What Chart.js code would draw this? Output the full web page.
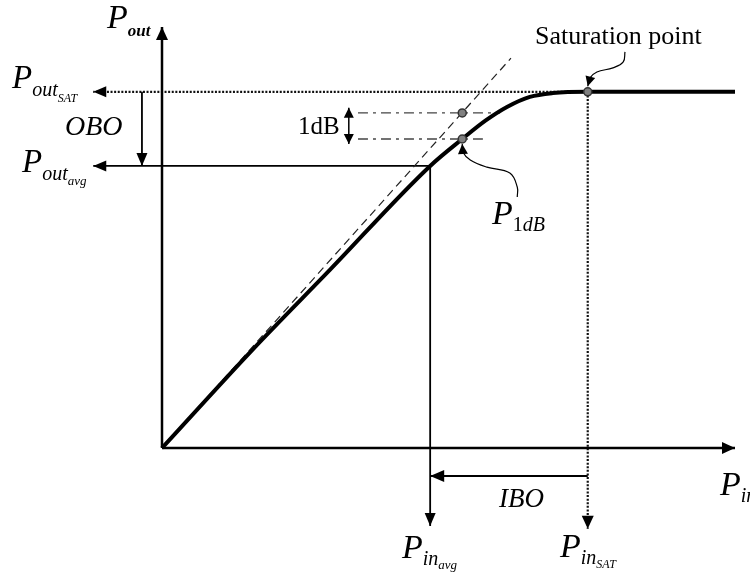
<!DOCTYPE html>
<html>
<head>
<meta charset="utf-8">
<script src="https://cdn.jsdelivr.net/npm/chart.js@4.4.0/dist/chart.umd.min.js"></script>
<style>
  html, body { margin: 0; padding: 0; background: #fff; }
  canvas { display: block; }
</style>
</head>
<body>
<canvas id="grafico" width="750" height="574"></canvas>
<script>
// 1) Datos (unidades arbitrarias, ejes de 0 a 100)
const ejeMax = 100;

// curva Pout vs Pin (compresion suave hasta saturacion)
const curvaPin  = [0, 15.9, 29.3, 46.8, 52.4, 56.5, 60.2, 64.2, 68.2, 74.3, 100];
const curvaPout = [0, 23.5, 42.3, 67.0, 73.4, 77.8, 81.0, 83.4, 84.3, 84.6, 84.6];

// extension lineal (ganancia de pequena senal)
const linealPin  = [0, 60.9];
const linealPout = [0, 92.6];

// puntos notables
const pinAvg = 46.8, poutAvg = 67.0;
const pinSat = 74.3, poutSat = 84.6;
const pin1dB = 52.4, pout1dB = 73.4, poutLineal1dB = 79.6;

// flechas indicadoras (curvas) hacia P1dB y saturacion
const flecha1dBPin  = [62.0, 62.0, 60.7, 56.7, 53.8, 52.5, 52.4];
const flecha1dBPout = [59.6, 62.0, 65.3, 66.7, 68.4, 70.3, 72.2];
const flechaSatPin  = [80.8, 80.5, 78.7, 75.9, 74.7, 74.3];
const flechaSatPout = [94.1, 91.7, 90.3, 89.3, 87.9, 85.9];

// hasta donde llegan las cotas fuera de los ejes
const limiteIzq = -12;
const limiteAbajoAvg = -18.5;
const limiteAbajoSat = -19.2;
const oboPin = -3.5;
const iboPout = -6.65;
const lineas1dB = [34.2, 59.0, 56.0];   // inicio, fin superior, fin inferior
const cota1dB = [32.6, 80.8, 72.2];     // x, arriba, abajo

const pts = (xs, ys) => xs.map((x, i) => ({ x, y: ys[i] }));

// 2) Plugin: puntas de flecha en los extremos de las lineas
const puntasFlecha = {
  id: "puntasFlecha",
  afterDatasetsDraw(chart) {
    const ctx = chart.ctx;
    chart.data.datasets.forEach((ds, i) => {
      if (!ds.flecha) return;
      const p = chart.getDatasetMeta(i).data;
      const n = p.length;
      const [L, W] = ds.flecha.tam || [13, 5.5];
      const dibujar = (tip, prev) => {
        const ang = Math.atan2(tip.y - prev.y, tip.x - prev.x);
        ctx.save();
        ctx.translate(tip.x, tip.y);
        ctx.rotate(ang);
        ctx.beginPath();
        ctx.moveTo(0, 0);
        ctx.lineTo(-L, -W);
        ctx.lineTo(-L, W);
        ctx.closePath();
        ctx.fillStyle = "#000";
        ctx.fill();
        ctx.restore();
      };
      if (ds.flecha.fin) dibujar(p[n - 1], p[n - 2]);
      if (ds.flecha.inicio) dibujar(p[0], p[1]);
    });
  },
};

// 3) Plugin: textos con subindices
const etiquetas = {
  id: "etiquetas",
  afterDraw(chart) {
    const ctx = chart.ctx;
    const fuente = '"Liberation Serif", "DejaVu Serif", serif';
    const texto = (partes, x, y) => {
      let cx = x;
      partes.forEach(([t, tam, dy, estilo]) => {
        ctx.font = `${estilo || "italic"} ${tam}px ${fuente}`;
        ctx.fillText(t, cx, y + dy);
        cx += ctx.measureText(t).width;
      });
    };
    ctx.save();
    ctx.fillStyle = "#000";
    ctx.textBaseline = "alphabetic";
    texto([["P", 34, 0], ["out", 17, 8, "italic bold"]], 107, 28);
    texto([["P", 33, 0], ["out", 20, 8], ["SAT", 12, 14]], 12, 88);
    texto([["OBO", 28, 0]], 65, 135);
    texto([["P", 33, 0], ["out", 20, 8], ["avg", 13, 13]], 22, 172);
    texto([["1dB", 25, 0, "normal"]], 298, 134);
    texto([["Saturation point", 26, 0, "normal"]], 535, 44);
    texto([["P", 34, 0], ["1", 20, 7, "normal"], ["dB", 20, 7]], 492, 224);
    texto([["P", 34, 0], ["in", 20, 7]], 720, 495);
    texto([["IBO", 27, 0]], 499, 507);
    texto([["P", 34, 0], ["in", 20, 7], ["avg", 13, 11]], 402, 558);
    texto([["P", 34, 0], ["in", 20, 7], ["SAT", 12, 11]], 560, 557);
    ctx.restore();
  },
};

// 4) Grafica
const linea = (data, extra) =>
  Object.assign(
    {
      data,
      showLine: true,
      borderColor: "#000",
      borderWidth: 2,
      pointRadius: 0,
      clip: false,
      order: 3,
    },
    extra
  );

new Chart(document.getElementById("grafico"), {
  type: "scatter",
  data: {
    datasets: [
      {
        data: [
          { x: oboPin, y: poutSat },
          { x: pin1dB, y: poutLineal1dB },
          { x: pin1dB, y: pout1dB },
          { x: pinSat, y: poutSat },
          { x: pinSat, y: iboPout },
        ],
        pointRadius: 4,
        backgroundColor: "#808080",
        borderColor: "#333",
        borderWidth: 1.5,
        clip: false,
        order: 0,
      },
      linea(pts(curvaPin, curvaPout), {
        borderWidth: 4,
        cubicInterpolationMode: "monotone",
        order: 1,
      }),
      // ejes
      linea([{ x: 0, y: 0 }, { x: ejeMax, y: 0 }], { borderWidth: 2.5, flecha: { fin: true, tam: [13, 6] } }),
      linea([{ x: 0, y: 0 }, { x: 0, y: ejeMax }], { borderWidth: 2.5, flecha: { fin: true, tam: [13, 6] } }),
      // extension lineal
      linea(pts(linealPin, linealPout), { borderWidth: 1.2, borderDash: [8, 5], borderColor: "#222" }),
      // saturacion
      linea([{ x: pinSat, y: poutSat }, { x: limiteIzq, y: poutSat }], {
        borderWidth: 2.2, borderDash: [2, 1.6], borderColor: "#111", flecha: { fin: true, tam: [13, 5.5] },
      }),
      linea([{ x: pinSat, y: poutSat }, { x: pinSat, y: limiteAbajoSat }], {
        borderWidth: 2.2, borderDash: [2, 1.6], borderColor: "#111", flecha: { fin: true, tam: [13, 6] },
      }),
      // punto medio
      linea([{ x: pinAvg, y: poutAvg }, { x: limiteIzq, y: poutAvg }], { borderWidth: 1.8, flecha: { fin: true, tam: [13, 5.5] } }),
      linea([{ x: pinAvg, y: poutAvg }, { x: pinAvg, y: limiteAbajoAvg }], { borderWidth: 1.8, flecha: { fin: true, tam: [13, 5.5] } }),
      // OBO / IBO
      linea([{ x: oboPin, y: poutSat }, { x: oboPin, y: poutAvg }], { borderWidth: 1.8, flecha: { fin: true, tam: [13, 5.5] } }),
      linea([{ x: pinSat, y: iboPout }, { x: pinAvg, y: iboPout }], { borderWidth: 1.8, flecha: { fin: true, tam: [14, 6] } }),
      // compresion de 1 dB
      linea([{ x: lineas1dB[0], y: poutLineal1dB }, { x: lineas1dB[1], y: poutLineal1dB }], {
        borderWidth: 1.3, borderDash: [10, 5, 3, 5], borderColor: "#444",
      }),
      linea([{ x: lineas1dB[0], y: pout1dB }, { x: lineas1dB[2], y: pout1dB }], {
        borderWidth: 1.3, borderDash: [10, 5, 3, 5], borderColor: "#444",
      }),
      linea([{ x: cota1dB[0], y: cota1dB[1] }, { x: cota1dB[0], y: cota1dB[2] }], {
        borderWidth: 1.5, flecha: { inicio: true, fin: true, tam: [10, 5] },
      }),
      // indicadores curvos
      linea(pts(flecha1dBPin, flecha1dBPout), { borderWidth: 1.2, tension: 0.4, flecha: { fin: true, tam: [10, 5] } }),
      linea(pts(flechaSatPin, flechaSatPout), { borderWidth: 1.2, tension: 0.4, flecha: { fin: true, tam: [10, 5] } }),
    ],
  },
  options: {
    responsive: false,
    animation: false,
    devicePixelRatio: 1,
    layout: { padding: { left: 162, right: 15, top: 27, bottom: 126 } },
    scales: {
      x: { type: "linear", min: 0, max: ejeMax, display: false },
      y: { type: "linear", min: 0, max: ejeMax, display: false },
    },
    plugins: { legend: { display: false }, tooltip: { enabled: false } },
    events: [],
  },
  plugins: [puntasFlecha, etiquetas],
});
</script>
</body>
</html>
